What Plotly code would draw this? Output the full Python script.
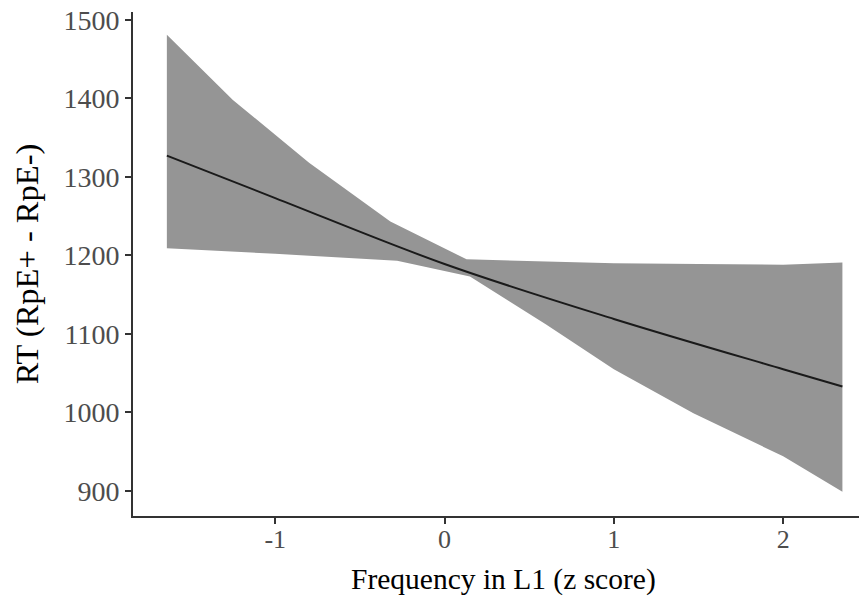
import plotly.graph_objects as go

# Fitted effect line (x = frequency in L1, z score; y = RT difference)
line_x = [-1.64, -1.0, 0.0, 1.0, 2.0, 2.35]
line_y = [1327, 1273, 1189, 1119, 1055, 1033]

# Confidence band
upper_x = [-1.64, -1.25, -0.8, -0.32, 0.13, 0.6, 1.0, 1.5, 2.0, 2.35]
upper_y = [1481, 1398, 1318, 1243, 1195, 1192, 1190, 1189, 1188, 1191]
lower_x = [-1.64, -1.0, -0.28, 0.15, 0.6, 1.0, 1.47, 2.0, 2.35]
lower_y = [1209, 1202, 1193, 1173, 1112, 1055, 999, 944, 899]

x_ticks = [-1, 0, 1, 2]
x_ticklabels = ["-1", "0", "1", "2"]
y_ticks = [900, 1000, 1100, 1200, 1300, 1400, 1500]

x_title = "Frequency in L1 (z score)"
y_title = "RT (RpE+ - RpE-)"

FONT = "Liberation Serif, Times New Roman, serif"

fig = go.Figure()
fig.add_trace(go.Scatter(
    x=upper_x + lower_x[::-1], y=upper_y + lower_y[::-1],
    fill="toself", fillcolor="#959595", mode="lines",
    line=dict(width=0, color="#959595"), hoverinfo="skip", showlegend=False))
fig.add_trace(go.Scatter(
    x=line_x, y=line_y, mode="lines",
    line=dict(color="#1a1a1a", width=2, shape="spline", smoothing=1.0),
    showlegend=False))

fig.update_layout(
    width=859, height=597,
    margin=dict(l=133, r=0, t=12, b=81),
    plot_bgcolor="white", paper_bgcolor="white",
    font=dict(family=FONT, color="black"),
    xaxis=dict(range=[-1.84, 2.448], tickvals=x_ticks, ticktext=x_ticklabels,
               showgrid=False, zeroline=False, showline=True, linecolor="#333333", linewidth=2,
               ticks="outside", ticklen=6, tickwidth=2, tickcolor="#333333", ticklabelstandoff=-7,
               tickfont=dict(family=FONT, size=26, color="#4d4d4d")),
    yaxis=dict(range=[868, 1510], tickvals=y_ticks,
               showgrid=False, zeroline=False, showline=True, linecolor="#333333", linewidth=2,
               ticks="outside", ticklen=6, tickwidth=2, tickcolor="#333333",
               tickfont=dict(family=FONT, size=28, color="#4d4d4d"),
               title=dict(text=y_title, font=dict(family=FONT, size=32.5, color="black"), standoff=15)),
    annotations=[dict(text=x_title, xref="paper", yref="paper", x=0.511, y=-0.125,
                      xanchor="center", yanchor="middle", showarrow=False,
                      font=dict(family=FONT, size=29.5, color="black"))],
)

fig.write_html("out.html")
